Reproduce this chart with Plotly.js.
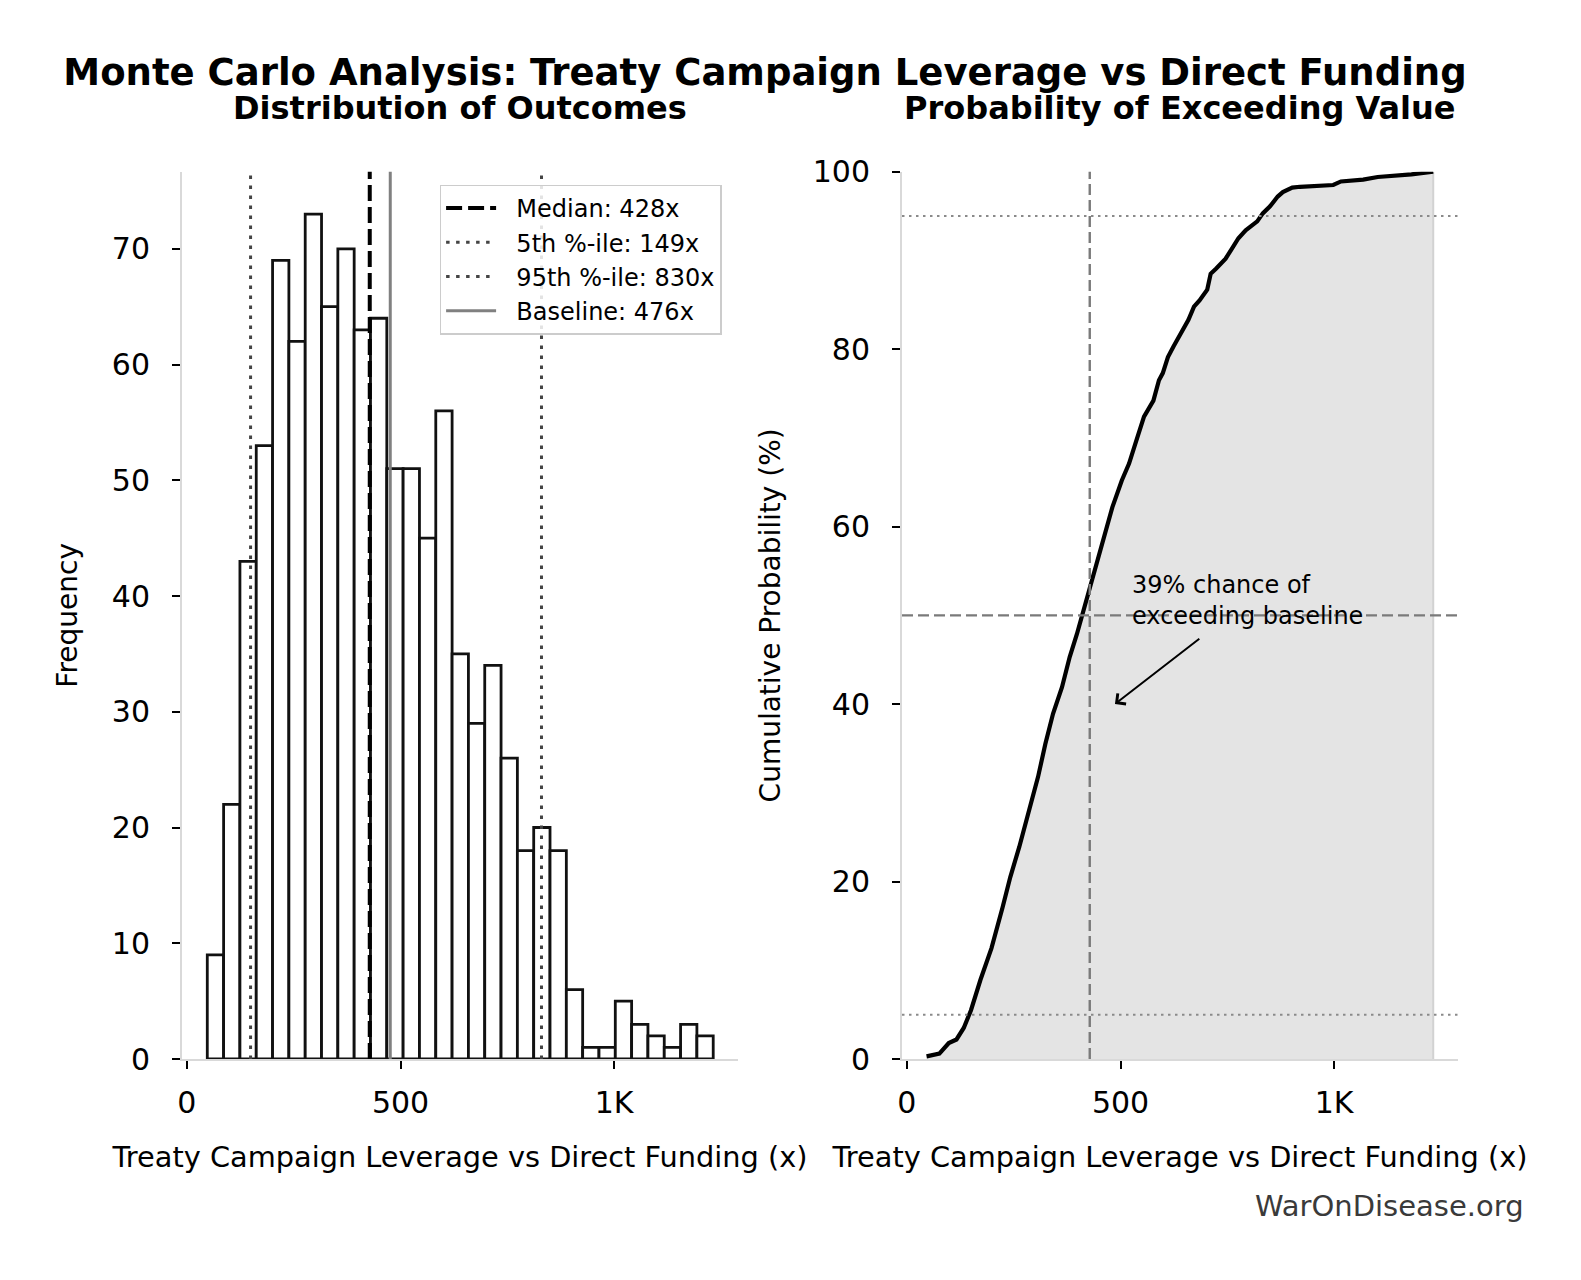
<!DOCTYPE html>
<html>
<head>
<meta charset="utf-8">
<script src="https://cdn.plot.ly/plotly-3.0.1.min.js"></script>
<style>html,body{margin:0;padding:0;background:#fff;}#chart{width:1581px;height:1280px;}</style>
</head>
<body>
<div id="chart"></div>
<script>
// ---------------- data ----------------
const binCounts = [9, 22, 43, 53, 69, 62, 73, 65, 70, 63, 64, 51, 51, 45, 56, 35, 29, 34, 26, 18, 20, 18, 6, 1, 1, 5, 3, 2, 1, 3, 2];
const binStart = 47.7;
const binEnd = 1232;

const medianValue = 428;
const p5Value = 149;
const p95Value = 830;
const baselineValue = 476;
const legendNames = ['Median: 428x', '5th %-ile: 149x', '95th %-ile: 830x', 'Baseline: 476x'];

const cdfX = [46, 76, 98, 116, 133, 150, 172, 198, 224, 242, 263, 285, 307, 324, 342, 363, 381, 398, 411, 437, 459, 481, 503, 520, 537, 555, 577, 590, 599, 611, 624, 650, 659, 672, 685, 703, 711, 724, 746, 759, 776, 793, 820, 833, 850, 868, 880, 902, 920, 998, 1016, 1068, 1102, 1181, 1232];
const cdfY = [0.3, 0.6, 1.8, 2.2, 3.5, 5.5, 8.9, 12.5, 17.1, 20.5, 23.9, 28.0, 31.8, 35.5, 38.9, 41.9, 45.3, 47.9, 50.2, 54.5, 58.5, 62.2, 65.2, 67.1, 69.7, 72.4, 74.2, 76.5, 77.3, 79.1, 80.3, 82.5, 83.3, 84.8, 85.5, 86.7, 88.5, 89.1, 90.2, 91.2, 92.5, 93.4, 94.4, 95.3, 96.1, 97.2, 97.7, 98.2, 98.3, 98.5, 98.9, 99.1, 99.4, 99.7, 100];

const xTickVals = [0, 500, 1000];
const xTickText = ['0', '500', '1K'];
const leftYTicks = [0, 10, 20, 30, 40, 50, 60, 70];
const rightYTicks = [0, 20, 40, 60, 80, 100];
const percentileLevels = [5, 95];
const midLevel = [50];
const arrowTip = [487, 40];
const arrowTail = [688, 47.5];
const noteAnchor = [523, 51.7];
const noteText = '39% chance of<br>exceeding baseline';

const leftYMax = 76.66;
const xRange = [-11.5, 1290];

// ---------------- build ----------------
const FONT = 'DejaVu Sans, Verdana, sans-serif';
const nb = binCounts.length;
const binWidth = (binEnd - binStart) / nb;
const binCenters = binCounts.map((_, i) => binStart + (i + 0.5) * binWidth);

const traces = [];
traces.push({
  type: 'bar', x: binCenters, y: binCounts, width: binWidth,
  marker: {color: '#ffffff', line: {color: '#111111', width: 2.8}},
  xaxis: 'x', yaxis: 'y', showlegend: false, hoverinfo: 'skip'
});
const GAP = '\u00a0\u00a0';
function vline(xv, name, color, width, dash) {
  return {type: 'scatter', mode: 'lines', x: [xv, xv], y: [0, leftYMax * 1.01],
    line: {color: color, width: width, dash: dash}, name: GAP + name,
    xaxis: 'x', yaxis: 'y', showlegend: true, hoverinfo: 'skip'};
}
traces.push(vline(medianValue, legendNames[0], '#000000', 4, '16px,6px'));
traces.push(vline(p5Value, legendNames[1], '#444444', 3, '3.5px,6.5px'));
traces.push(vline(p95Value, legendNames[2], '#444444', 3, '3.5px,6.5px'));
traces.push(vline(baselineValue, legendNames[3], '#808080', 3, 'solid'));

// right panel
traces.push({
  type: 'scatter', mode: 'lines', x: cdfX, y: cdfY, fill: 'tozeroy',
  fillcolor: '#e4e4e4', line: {color: 'rgba(0,0,0,0)', width: 0},
  xaxis: 'x2', yaxis: 'y2', showlegend: false, hoverinfo: 'skip'
});
traces.push({
  type: 'scatter', mode: 'lines', x: [cdfX[cdfX.length - 1], cdfX[cdfX.length - 1]], y: [0, cdfY[cdfY.length - 1]],
  line: {color: '#d2d2d2', width: 2}, xaxis: 'x2', yaxis: 'y2', showlegend: false, hoverinfo: 'skip'
});
traces.push({
  type: 'scatter', mode: 'lines', x: cdfX, y: cdfY,
  line: {color: '#000000', width: 4.2, shape: 'linear'},
  xaxis: 'x2', yaxis: 'y2', showlegend: false, hoverinfo: 'skip'
});

const shapes = [];
percentileLevels.forEach(v => shapes.push({type: 'line', xref: 'x2 domain', x0: 0, x1: 1, yref: 'y2', y0: v, y1: v,
  line: {color: '#8a8a8a', width: 2, dash: '2.5px,4.5px'}, layer: 'above'}));
midLevel.forEach(v => shapes.push({type: 'line', xref: 'x2 domain', x0: 0, x1: 1, yref: 'y2', y0: v, y1: v,
  line: {color: '#7a7a7a', width: 2.4, dash: '11px,5px'}, layer: 'above'}));
shapes.push({type: 'line', xref: 'x2', x0: medianValue, x1: medianValue, yref: 'y2 domain', y0: 0, y1: 1,
  line: {color: '#7a7a7a', width: 2.4, dash: '11px,5px'}, layer: 'above'});

const axCommon = {
  ticks: 'outside', ticklen: 8, tickwidth: 2, tickcolor: '#000',
  showline: true, linecolor: '#d9d9d9', linewidth: 2, mirror: false,
  showgrid: false, zeroline: false, fixedrange: true,
  tickfont: {family: FONT, size: 30, color: '#000'}
};
const xTitle = 'Treaty Campaign Leverage vs Direct Funding (x)';
const dY = [1 - 1059 / 1280, 1 - 171.7 / 1280];

const layout = {
  width: 1581, height: 1280, autosize: false,
  margin: {l: 0, r: 0, t: 0, b: 0},
  paper_bgcolor: '#fff', plot_bgcolor: '#fff',
  font: {family: FONT, color: '#000'},
  title: {text: '<b>Monte Carlo Analysis: Treaty Campaign Leverage vs Direct Funding</b>',
    font: {family: FONT, size: 37, color: '#000'}, x: 765 / 1581, xanchor: 'center',
    y: 1 - 72 / 1280, yanchor: 'middle', xref: 'paper', yref: 'container'},
  xaxis: Object.assign({}, axCommon, {domain: [182 / 1581, 738 / 1581], anchor: 'y', range: xRange,
    tickvals: xTickVals, ticktext: xTickText, ticklabelstandoff: 8,
    title: {text: xTitle, font: {family: FONT, size: 28.8, color: '#000'}, standoff: 28}}),
  yaxis: Object.assign({}, axCommon, {domain: dY, anchor: 'x', range: [0, leftYMax],
    tickvals: leftYTicks, ticklabelstandoff: 16,
    title: {text: 'Frequency', font: {family: FONT, size: 28, color: '#000'}, standoff: 26}}),
  xaxis2: Object.assign({}, axCommon, {domain: [902 / 1581, 1458 / 1581], anchor: 'y2', range: xRange,
    tickvals: xTickVals, ticktext: xTickText, ticklabelstandoff: 8,
    title: {text: xTitle, font: {family: FONT, size: 28.8, color: '#000'}, standoff: 28}}),
  yaxis2: Object.assign({}, axCommon, {domain: dY, anchor: 'x2', range: [0, 100],
    tickvals: rightYTicks, ticklabelstandoff: 16,
    title: {text: 'Cumulative Probability (%)', font: {family: FONT, size: 28, color: '#000'}, standoff: 24}}),
  legend: {x: 439.6 / 1581, y: 1 - 184.5 / 1280, xanchor: 'left', yanchor: 'top',
    bgcolor: 'rgba(255,255,255,0.85)', bordercolor: '#cccccc', borderwidth: 1.5,
    font: {family: FONT, size: 24, color: '#000'}, itemwidth: 50, tracegroupgap: 0},
  shapes: shapes,
  annotations: [
    {text: '<b>Distribution of Outcomes</b>', xref: 'paper', yref: 'paper', x: 460 / 1581, y: 1 - 108 / 1280,
      xanchor: 'center', yanchor: 'middle', showarrow: false, font: {family: FONT, size: 32, color: '#000'}},
    {text: '<b>Probability of Exceeding Value</b>', xref: 'paper', yref: 'paper', x: 1180 / 1581, y: 1 - 108 / 1280,
      xanchor: 'center', yanchor: 'middle', showarrow: false, font: {family: FONT, size: 32, color: '#000'}},
    {text: '', xref: 'x2', yref: 'y2', x: arrowTip[0], y: arrowTip[1], axref: 'x2', ayref: 'y2',
      ax: arrowTail[0], ay: arrowTail[1], showarrow: true, arrowhead: 4, arrowsize: 1.3, arrowwidth: 2,
      arrowcolor: '#000', standoff: 0, startstandoff: 0},
    {text: noteText, xref: 'x2', yref: 'y2', x: noteAnchor[0], y: noteAnchor[1], xanchor: 'left', yanchor: 'middle',
      align: 'left', showarrow: false, font: {family: FONT, size: 24, color: '#000'}},
    {text: 'WarOnDisease.org', xref: 'paper', yref: 'paper', x: 1526 / 1581, y: 1 - 1206 / 1280,
      xanchor: 'right', yanchor: 'middle', showarrow: false, font: {family: FONT, size: 29, color: '#3a3a3a'}}
  ]
};

Plotly.newPlot('chart', traces, layout, {displayModeBar: false, staticPlot: true});
</script>
</body>
</html>
